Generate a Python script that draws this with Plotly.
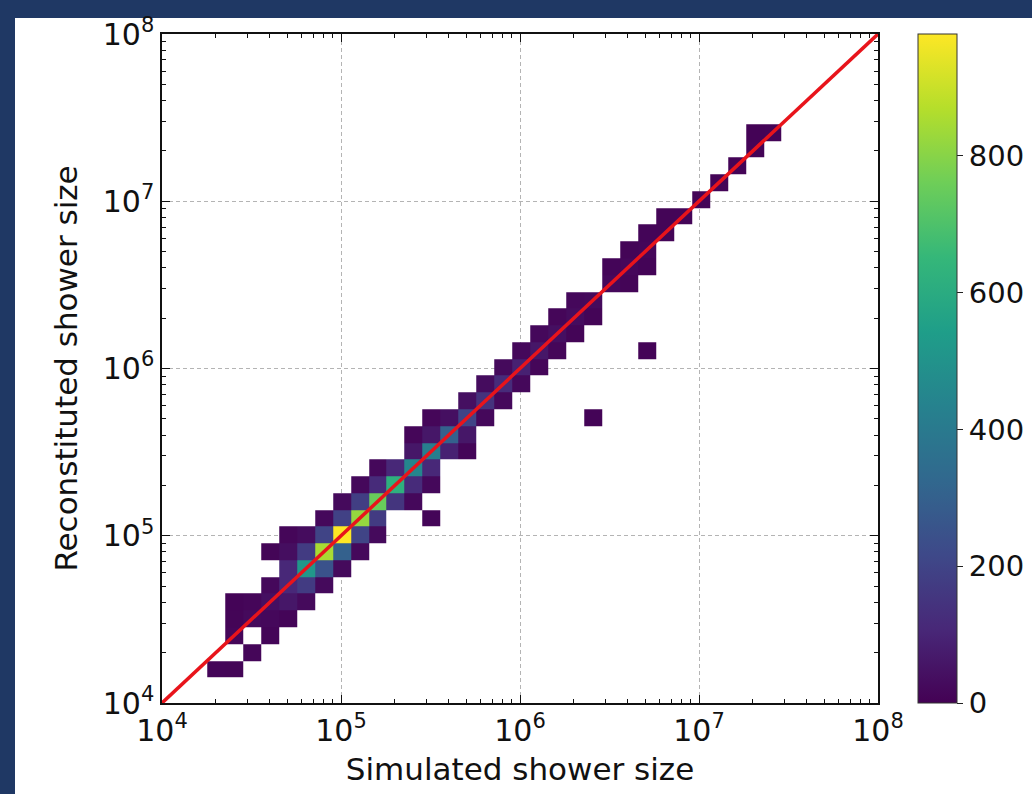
import plotly.graph_objects as go

# ---- histogram grid (same bins on both axes), log10 of first edge and bin width (dex)
bin_lo_log = 4.152
bin_dex = 0.1003
n_bins = 34

# ---- occupied cells: simulated-size bin index, reconstituted-size bin index, count
sim_bin = [1, 2,
           3,
           2, 4,
           2, 3, 4, 5,
           2, 3, 4, 5, 6,
           4, 5, 6, 7,
           5, 6, 7, 8,
           4, 5, 6, 7, 8, 9,
           5, 6, 7, 8, 9, 10,
           7, 8, 9, 10, 13,
           8, 9, 10, 11, 12,
           9, 10, 11, 12, 13,
           10, 11, 12, 13,
           12, 13, 14, 15,
           12, 13, 14, 15,
           13, 14, 15, 16, 22,
           15, 16, 17,
           16, 17, 18,
           17, 18, 19,
           18, 19, 20, 25,
           19, 20, 21,
           20, 21, 22,
           21, 22,
           23, 24,
           23, 24, 25,
           24, 25,
           25, 26,
           26, 27,
           28,
           29,
           30,
           31,
           31, 32]
reco_bin = [0, 0,
            1,
            2, 2,
            3, 3, 3, 3,
            4, 4, 4, 4, 4,
            5, 5, 5, 5,
            6, 6, 6, 6,
            7, 7, 7, 7, 7, 7,
            8, 8, 8, 8, 8, 8,
            9, 9, 9, 9, 9,
            10, 10, 10, 10, 10,
            11, 11, 11, 11, 11,
            12, 12, 12, 12,
            13, 13, 13, 13,
            14, 14, 14, 14,
            15, 15, 15, 15, 15,
            16, 16, 16,
            17, 17, 17,
            18, 18, 18,
            19, 19, 19, 19,
            20, 20, 20,
            21, 21, 21,
            22, 22,
            23, 23,
            24, 24, 24,
            25, 25,
            26, 26,
            27, 27,
            28,
            29,
            30,
            31,
            32, 32]
counts = [12, 10,
          15,
          14, 12,
          10, 25, 20, 12,
          8, 15, 40, 60, 25,
          20, 110, 170, 25,
          110, 520, 250, 25,
          10, 35, 170, 850, 300, 20,
          15, 30, 200, 978, 200, 25,
          20, 190, 820, 170, 12,
          25, 180, 750, 150, 20,
          20, 120, 620, 120, 20,
          20, 110, 450, 110,
          60, 420, 90, 12,
          15, 60, 300, 60,
          15, 40, 200, 20, 8,
          40, 140, 20,
          30, 120, 20,
          25, 90, 15,
          20, 60, 15, 8,
          20, 40, 10,
          15, 30, 10,
          20, 25,
          20, 10,
          12, 18, 8,
          10, 15,
          12, 10,
          10, 12,
          10,
          8,
          8,
          8,
          6, 8]

# ---- reference diagonal (reconstituted = simulated)
diag_x = [1e4, 1e8]
diag_y = [1e4, 1e8]

# ---- ticks
major_vals = [1e4, 1e5, 1e6, 1e7, 1e8]
major_text = ["10<sup>4</sup>", "10<sup>5</sup>", "10<sup>6</sup>", "10<sup>7</sup>", "10<sup>8</sup>"]
minor_mult = [2, 3, 4, 5, 6, 7, 8, 9]
minor_dec = [1e4, 1e5, 1e6, 1e7]
cbar_ticks = [0, 200, 400, 600, 800]
z_max = 978

edges = [10 ** (bin_lo_log + bin_dex * k) for k in range(n_bins + 1)]
z = [[None] * n_bins for _ in range(n_bins)]
for i, j, c in zip(sim_bin, reco_bin, counts):
    z[j][i] = c

minor_vals = [m * d for d in minor_dec for m in minor_mult]

FONT = "DejaVu Sans"
W, H = 1032, 794
L, R, T, B = 162, 154, 34, 91
PW, PH = W - L - R, H - T - B

fig = go.Figure()
fig.add_trace(go.Heatmap(
    x=edges, y=edges, z=z,
    colorscale="Viridis", zmin=0, zmax=z_max,
    hoverongaps=False,
    colorbar=dict(
        xref="container", x=918 / W, xanchor="left", xpad=0,
        y=0.5, yanchor="middle", ypad=0,
        len=1.0, lenmode="fraction",
        thickness=39, thicknessmode="pixels",
        outlinewidth=1, outlinecolor="#333333",
        tickvals=cbar_ticks, ticks="outside", ticklen=6, tickcolor="#222222",
        tickfont=dict(family=FONT, size=29, color="#111111"),
    ),
))
fig.add_trace(go.Scatter(
    x=diag_x, y=diag_y, mode="lines",
    line=dict(color="#e8141b", width=3.5), showlegend=False, hoverinfo="skip",
))

axis_common = dict(
    type="log", range=[4, 8],
    tickmode="array", tickvals=major_vals, ticktext=major_text,
    ticks="inside", ticklen=8, tickwidth=1.2, tickcolor="#111111",
    showline=True, linecolor="#111111", linewidth=1.5, mirror="allticks",
    showgrid=True, gridcolor="#b4b4b4", gridwidth=1, griddash="4px,3px",
    zeroline=False, automargin=False,
    tickfont=dict(family=FONT, size=30, color="#111111"),
    minor=dict(tickmode="array", tickvals=minor_vals, ticks="inside", ticklen=4,
               tickwidth=1, tickcolor="#111111", showgrid=False),
)

fig.update_layout(
    width=W, height=H,
    margin=dict(l=L, r=R, t=T, b=B, pad=0, autoexpand=False),
    paper_bgcolor="#1f3864",
    plot_bgcolor="white",
    showlegend=False,
    xaxis=dict(axis_common,
               title=dict(text="Simulated shower size",
                          font=dict(family=FONT, size=31, color="#111111"), standoff=12)),
    yaxis=dict(axis_common,
               title=dict(text="Reconstituted shower size",
                          font=dict(family=FONT, size=31, color="#111111"), standoff=16)),
    shapes=[dict(type="rect", xref="paper", yref="paper",
                 x0=(15 - L) / PW, x1=(W + 8 - L) / PW,
                 y0=(T + PH - H - 8) / PH, y1=(T + PH - 18) / PH,
                 fillcolor="white", line=dict(width=0), layer="below")],
)

fig.write_html("out.html")
